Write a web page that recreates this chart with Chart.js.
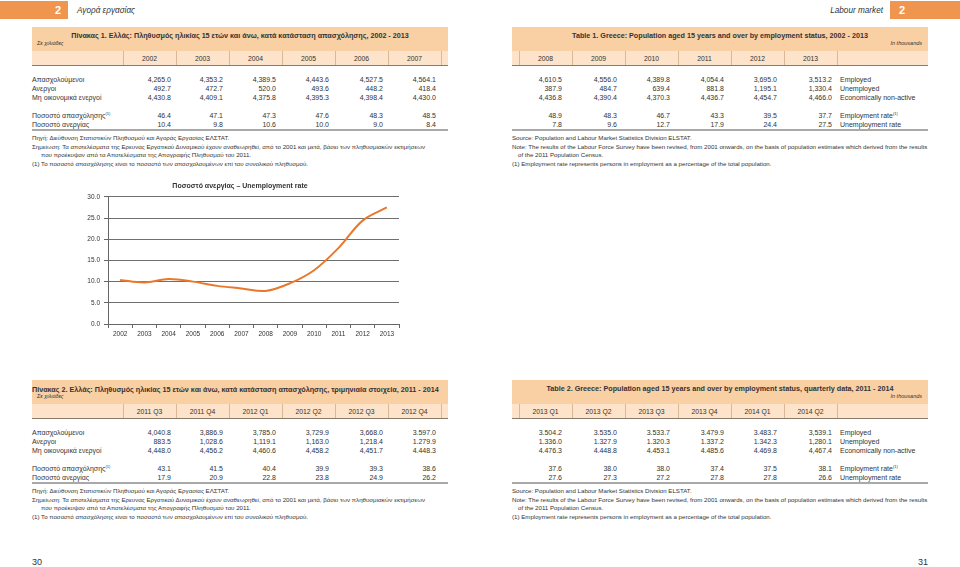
<!DOCTYPE html>
<html>
<head>
<meta charset="utf-8">
<script src="https://cdn.jsdelivr.net/npm/chart.js@4.4.1/dist/chart.umd.min.js"></script>
<style>
  html, body { margin: 0; padding: 0; background: #fff; }
  body { width: 960px; height: 567px; position: relative; overflow: hidden; font-family: "Liberation Sans", Arial, sans-serif; color: #333; }
  .t { position: absolute; white-space: nowrap; line-height: 1; }
  .box { position: absolute; }
  #chartWrap { position: absolute; left: 60px; top: 189px; width: 345px; height: 153px; }
</style>
</head>
<body>
<div id="chartWrap"><canvas id="myChart"></canvas></div>
<script>
// chart data
const years = ["2002", "2003", "2004", "2005", "2006", "2007", "2008", "2009", "2010", "2011", "2012", "2013"];
const unemploymentRate = [10.4, 9.8, 10.6, 10.0, 9.0, 8.4, 7.8, 9.6, 12.7, 17.9, 24.4, 27.5];
const yTicks = [0, 5, 10, 15, 20, 25, 30];

// table 1 (annual)
const t1Left = ["2002", "2003", "2004", "2005", "2006", "2007"];
const t1Right = ["2008", "2009", "2010", "2011", "2012", "2013"];
const t1Employed = ["4,265.0", "4,353.2", "4,389.5", "4,443.6", "4,527.5", "4,564.1", "4,610.5", "4,556.0", "4,389.8", "4,054.4", "3,695.0", "3,513.2"];
const t1Unemployed = ["492.7", "472.7", "520.0", "493.6", "448.2", "418.4", "387.9", "484.7", "639.4", "881.8", "1,195.1", "1,330.4"];
const t1Inactive = ["4,430.8", "4,409.1", "4,375.8", "4,395.3", "4,398.4", "4,430.0", "4,436.8", "4,390.4", "4,370.3", "4,436.7", "4,454.7", "4,466.0"];
const t1EmpRate = ["46.4", "47.1", "47.3", "47.6", "48.3", "48.5", "48.9", "48.3", "46.7", "43.3", "39.5", "37.7"];
const t1UnempRate = ["10.4", "9.8", "10.6", "10.0", "9.0", "8.4", "7.8", "9.6", "12.7", "17.9", "24.4", "27.5"];

// table 2 (quarterly)
const t2Left = ["2011 Q3", "2011 Q4", "2012 Q1", "2012 Q2", "2012 Q3", "2012 Q4"];
const t2Right = ["2013 Q1", "2013 Q2", "2013 Q3", "2013 Q4", "2014 Q1", "2014 Q2"];
const t2Employed = ["4,040.8", "3,886.9", "3,785.0", "3,729.9", "3,668.0", "3.597.0", "3.504.2", "3.535.0", "3.533.7", "3.479.9", "3.483.7", "3,539.1"];
const t2Unemployed = ["883.5", "1,028.6", "1,119.1", "1,163.0", "1,218.4", "1.279.9", "1.336.0", "1.327.9", "1.320.3", "1.337.2", "1.342.3", "1,280.1"];
const t2Inactive = ["4,448.0", "4,456.2", "4,460.6", "4,458.2", "4,451.7", "4.448.3", "4.476.3", "4.448.8", "4.453.1", "4.485.6", "4.469.8", "4,467.4"];
const t2EmpRate = ["43.1", "41.5", "40.4", "39.9", "39.3", "38.6", "37.6", "38.0", "38.0", "37.4", "37.5", "38.1"];
const t2UnempRate = ["17.9", "20.9", "22.8", "23.8", "24.9", "26.2", "27.6", "27.3", "27.2", "27.8", "27.8", "26.6"];

const grLabels = ["Απασχολούμενοι", "Ανεργοι", "Μη οικονομικά ενεργοί", "Ποσοστό απασχόλησης<sup style='font-size:4px'>(1)</sup>", "Ποσοστό ανεργίας"];
const enLabels = ["Employed", "Unemployed", "Economically non-active", "Employment rate<sup style='font-size:4px'>(1)</sup>", "Unemployment rate"];

const grNotes = [
  "Πηγή: Διεύθυνση Στατιστικών Πληθυσμού και Αγοράς Εργασίας ΕΛΣΤΑΤ.",
  "Σημείωση: Τα αποτελέσματα της Ερευνας Εργατικού Δυναμικού έχουν αναθεωρηθεί, από το 2001 και μετά, βάσει των πληθυσμιακών εκτιμήσεων",
  "που προέκυψαν από τα Αποτελέσματα της Απογραφής Πληθυσμού του 2011.",
  "(1) Το ποσοστό απασχόλησης είναι το ποσοστό των απασχολουμένων επί του συνολικού πληθυσμού.",
];
const enNotes = [
  "Source: Population and Labour Market Statistics Division ELSTAT.",
  "Note: The results of the Labour Force Survey have been revised, from 2001 onwards, on the basis of population estimates which derived from the results",
  "of the 2011 Population Census.",
  "(1) Employment rate represents persons in employment as a percentage of the total population.",
];

// layout helpers
const page = document.body;
const colEdgesL = [123, 176, 229, 282, 335, 388, 441];
const colEdgesR = [519, 572, 625, 678, 731, 784, 837];
const numRightL = [171, 223, 276, 329, 383, 436];
const numRightR = [562, 617, 670, 724, 777, 832];

function rect(x, y, w, h, color) {
  const d = document.createElement("div");
  d.className = "box";
  d.style.cssText = `left:${x}px;top:${y}px;width:${w}px;height:${h}px;background:${color}`;
  page.appendChild(d);
}

function txt(x, y, s, fs, opts = {}) {
  const d = document.createElement("div");
  d.className = "t";
  d.innerHTML = s;
  let left = x;
  if (opts.align === "right") { left = x - 400; d.style.width = "400px"; d.style.textAlign = "right"; }
  if (opts.align === "center") { left = x - 300; d.style.width = "600px"; d.style.textAlign = "center"; }
  d.style.left = left + "px";
  d.style.top = (y - fs / 2) + "px";
  d.style.fontSize = fs + "px";
  if (opts.bold) d.style.fontWeight = "bold";
  if (opts.italic) d.style.fontStyle = "italic";
  if (opts.color) d.style.color = opts.color;
  page.appendChild(d);
}

function drawTable(top, grTitle, enTitle, grTitleAlign, leftHead, rightHead, rows) {
  const bandTop = top, headTop = top + 24, headBot = top + 38;
  // title bands
  rect(32, bandTop, 416, 24, "#f9cfa4");
  rect(512, bandTop, 416, 24, "#f9cfa4");
  rect(32, headTop, 416, 14, "#fde3c9");
  rect(512, headTop, 416, 14, "#fde3c9");
  rect(32, headBot, 416, 1, "#8a7a6c");
  rect(512, headBot, 416, 1, "#8a7a6c");
  colEdgesL.forEach((x) => rect(x, headTop, 1, 14, "#d9b894"));
  colEdgesR.forEach((x) => rect(x, headTop, 1, 14, "#d9b894"));

  if (grTitleAlign === "left") txt(32, bandTop + 10, grTitle, 7.2, { bold: true });
  else txt(240, bandTop + 9, grTitle, 7.2, { bold: true, align: "center" });
  txt(37, bandTop + 17, "Σε χιλιάδες", 5.5, { italic: true });
  txt(720, bandTop + 9, enTitle, 7.2, { bold: true, align: "center" });
  txt(922, bandTop + 17, "In thousands", 5.5, { italic: true, align: "right" });

  leftHead.forEach((h, i) => txt((colEdgesL[i] + colEdgesL[i + 1]) / 2, headTop + 8, h, 6.8, { align: "center" }));
  rightHead.forEach((h, i) => txt((colEdgesR[i] + colEdgesR[i + 1]) / 2, headTop + 8, h, 6.8, { align: "center" }));

  const rowY = [headBot + 14, headBot + 23, headBot + 32, headBot + 50, headBot + 59];
  rows.forEach((vals, r) => {
    txt(32, rowY[r], grLabels[r], 7);
    txt(840, rowY[r], enLabels[r], 7);
    vals.forEach((v, i) => {
      if (i < 6) txt(numRightL[i], rowY[r], v, 7, { align: "right" });
      else txt(numRightR[i - 6], rowY[r], v, 7, { align: "right" });
    });
  });
  const ruleY = headBot + 64;
  rect(32, ruleY, 416, 2, "#a9a9a9");
  rect(512, ruleY, 416, 2, "#a9a9a9");

  const noteY = [ruleY + 9, ruleY + 18, ruleY + 26, ruleY + 35];
  grNotes.forEach((n, i) => txt(i === 2 ? 41 : 32, noteY[i], n, 6.15));
  enNotes.forEach((n, i) => txt(i === 2 ? 518 : 512, noteY[i], n, 6.15));
}

// page headers
rect(0, 1, 68, 18, "#f0954f");
txt(58, 10, "2", 11, { bold: true, align: "center", color: "#fff" });
txt(77, 11, "Αγορά εργασίας", 8.2, { italic: true });
rect(890, 1, 70, 18, "#f0954f");
txt(902, 10, "2", 11, { bold: true, align: "center", color: "#fff" });
txt(883, 11, "Labour market", 8.2, { italic: true, align: "right" });

drawTable(27,
  "Πίνακας 1. Ελλάς: Πληθυσμός ηλικίας 15 ετών και άνω, κατά κατάσταση απασχόλησης, 2002 - 2013",
  "Table 1. Greece: Population aged 15 years and over by employment status, 2002 - 2013",
  "center", t1Left, t1Right,
  [t1Employed, t1Unemployed, t1Inactive, t1EmpRate, t1UnempRate]);

drawTable(380,
  "Πίνακας 2. Ελλάς: Πληθυσμός ηλικίας 15 ετών και άνω, κατά κατάσταση απασχόλησης, τριμηνιαία στοιχεία, 2011 - 2014",
  "Table 2. Greece: Population aged 15 years and over by employment status, quarterly data, 2011 - 2014",
  "left", t2Left, t2Right,
  [t2Employed, t2Unemployed, t2Inactive, t2EmpRate, t2UnempRate]);

txt(240, 185, "Ποσοστό ανεργίας – Unemployment rate", 7, { bold: true, align: "center" });
txt(32, 562, "30", 9);
txt(928, 562, "31", 9, { align: "right" });

// the chart
const data = {
  labels: years,
  datasets: [
    {
      label: "Unemployment rate",
      data: unemploymentRate,
      borderColor: "#e8792c",
      borderWidth: 2,
      pointRadius: 0,
      tension: 0.35,
      fill: false,
    },
  ],
};

const config = {
  type: "line",
  data: data,
  options: {
    responsive: true,
    maintainAspectRatio: false,
    animation: false,
    layout: { padding: { top: 3, right: 6, left: 0, bottom: 0 } },
    plugins: { legend: { display: false }, tooltip: { enabled: false } },
    scales: {
      x: {
        offset: true,
        afterFit: (scale) => { scale.height = 18; },
        grid: {
          offset: true,
          drawOnChartArea: true,
          color: (ctx) => (ctx.index === years.length ? "#666" : "rgba(0,0,0,0)"),
          tickColor: "#666",
          tickLength: 4,
        },
        border: { color: "#666" },
        ticks: { color: "#333", font: { size: 6.5 }, padding: 2, maxRotation: 0 },
      },
      y: {
        min: yTicks[0],
        max: yTicks[yTicks.length - 1],
        afterFit: (scale) => { scale.width = 48; },
        afterBuildTicks: (scale) => { scale.ticks = yTicks.map((v) => ({ value: v })); },
        grid: { color: (ctx) => (ctx.index === 0 ? "rgba(0,0,0,0)" : "#6f6f6f"), tickColor: "#666", tickLength: 4 },
        border: { color: "#666" },
        ticks: { color: "#333", font: { size: 6.5 }, padding: 4, callback: (v) => v.toFixed(1) },
      },
    },
  },
};

Chart.defaults.font.family = "'Liberation Sans', Arial, sans-serif";
new Chart(document.getElementById("myChart"), config);
</script>
</body>
</html>
